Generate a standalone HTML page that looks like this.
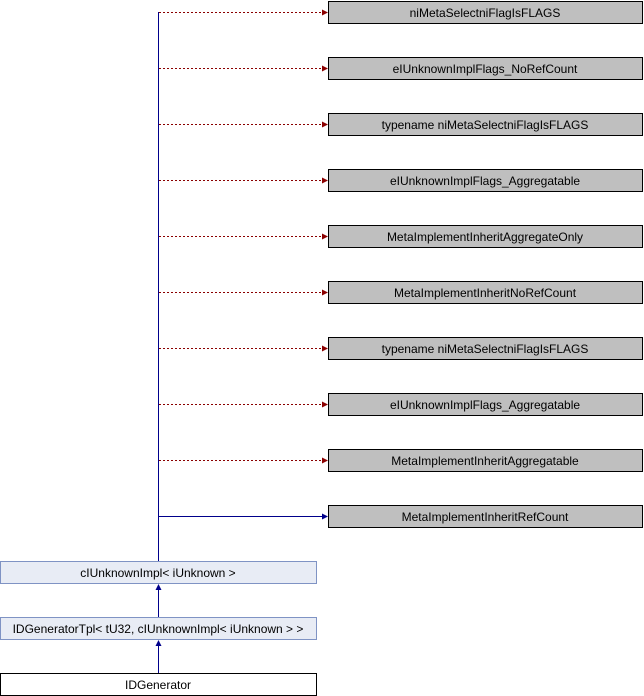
<!DOCTYPE html>
<html><head><style>body{margin:0;background:#fff}svg{display:block}text{font-family:"Liberation Sans",sans-serif;font-size:12px;text-anchor:middle}</style></head><body>
<svg width="644" height="696" xmlns="http://www.w3.org/2000/svg">
<g fill="#bfbfbf" stroke="#000" stroke-width="1">
<rect x="328.5" y="1.5" width="314" height="22"/>
<rect x="328.5" y="57.5" width="314" height="22"/>
<rect x="328.5" y="113.5" width="314" height="22"/>
<rect x="328.5" y="169.5" width="314" height="22"/>
<rect x="328.5" y="225.5" width="314" height="22"/>
<rect x="328.5" y="281.5" width="314" height="22"/>
<rect x="328.5" y="337.5" width="314" height="22"/>
<rect x="328.5" y="393.5" width="314" height="22"/>
<rect x="328.5" y="449.5" width="314" height="22"/>
<rect x="328.5" y="505.5" width="314" height="22"/>
</g>
<g stroke="#8b0000" stroke-dasharray="2,2" fill="none">
<path d="M159 12.5H322M159 68.5H322M159 124.5H322M159 180.5H322M159 236.5H322M159 292.5H322M159 348.5H322M159 404.5H322M159 460.5H322"/>
</g>
<g fill="#8b0000">
<path d="M328 12.5l-6-3v6z"/><path d="M328 68.5l-6-3v6z"/><path d="M328 124.5l-6-3v6z"/><path d="M328 180.5l-6-3v6z"/><path d="M328 236.5l-6-3v6z"/><path d="M328 292.5l-6-3v6z"/><path d="M328 348.5l-6-3v6z"/><path d="M328 404.5l-6-3v6z"/><path d="M328 460.5l-6-3v6z"/>
</g>
<g stroke="#00008b" fill="none">
<path d="M158.5 12V561M159 516.5H322M158.5 590V617M158.5 646V673"/>
</g>
<g fill="#00008b">
<path d="M328 516.5l-6-3v6z"/><path d="M158.5 584l-3 6h6z"/><path d="M158.5 640l-3 6h6z"/>
</g>
<rect x="0.5" y="561.5" width="316" height="22" fill="#e8ecf5" stroke="#7f93c4"/>
<rect x="0.5" y="617.5" width="316" height="22" fill="#e8ecf5" stroke="#7f93c4"/>
<rect x="0.5" y="673.5" width="316" height="22" fill="#fff" stroke="#000"/>
<g>
<text x="485" y="17">niMetaSelectniFlagIsFLAGS</text>
<text x="485" y="73">eIUnknownImplFlags_NoRefCount</text>
<text x="485" y="129">typename niMetaSelectniFlagIsFLAGS</text>
<text x="485" y="185">eIUnknownImplFlags_Aggregatable</text>
<text x="485" y="241">MetaImplementInheritAggregateOnly</text>
<text x="485" y="297">MetaImplementInheritNoRefCount</text>
<text x="485" y="353">typename niMetaSelectniFlagIsFLAGS</text>
<text x="485" y="409">eIUnknownImplFlags_Aggregatable</text>
<text x="485" y="465">MetaImplementInheritAggregatable</text>
<text x="485" y="521">MetaImplementInheritRefCount</text>
<text x="158" y="577">cIUnknownImpl&lt; iUnknown &gt;</text>
<text x="158" y="633">IDGeneratorTpl&lt; tU32, cIUnknownImpl&lt; iUnknown &gt; &gt;</text>
<text x="158" y="689">IDGenerator</text>
</g>
</svg>
</body></html>
